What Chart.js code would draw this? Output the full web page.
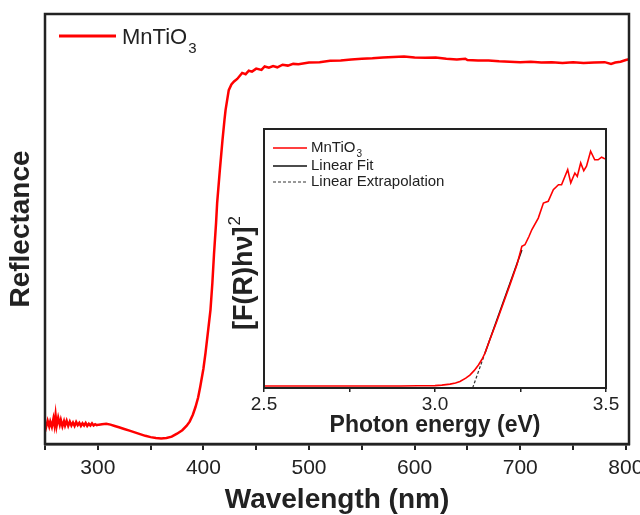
<!DOCTYPE html>
<html>
<head>
<meta charset="utf-8">
<script src="https://cdn.jsdelivr.net/npm/chart.js@4.4.1/dist/chart.umd.min.js"></script>
<style>
  body { margin: 0; background: #fff; }
  #wrap { position: relative; width: 640px; height: 515px; }
  #main { position: absolute; left: 0; top: 0; }
  #inset { position: absolute; left: 225px; top: 115px; }
</style>
</head>
<body>
<div id="wrap">
  <canvas id="main" width="640" height="515"></canvas>
  <canvas id="inset" width="400" height="326"></canvas>
</div>
<script>
// main spectrum: wavelength (nm) vs reflectance (a.u.)
const wavelength = [250, 251, 252.5, 254, 255, 256.5, 258, 259, 260, 261, 262.5, 264, 265, 266.5, 268, 269, 270.5, 272,
  273.5, 275, 276.5, 278, 279.5, 281, 282.5, 284, 285.5, 287, 288.5, 290, 291.5, 293, 294.5, 296, 297.5, 299,
  301, 304, 308, 312, 316, 320, 325, 330, 335, 340, 345, 350, 355, 360, 365, 370, 375, 380, 384, 387, 390, 392.5, 395, 397,
  400, 402, 404.5, 406.7, 408.5, 410, 412, 413, 415.5, 418, 420, 421, 424, 426.5, 429, 432, 436.7, 440, 443, 446, 450, 455,
  458, 462, 466, 470, 475, 480, 485, 490, 500, 510, 520, 530, 540, 550, 560, 570, 580, 590, 600, 610, 620, 630, 640, 648,
  650, 660, 670, 680, 690, 700, 710, 720, 730, 740, 750, 760, 770, 780, 786, 790, 795, 800, 803];
const reflectance = [4.8, 3.9, 5.4, 4.1, 5.2, 4.0, 5.9, 4.4, 6.7, 4.2, 6.1, 4.5, 5.6, 4.1, 5.3, 4.3, 5.4, 4.2,
  5.2, 4.3, 5.0, 4.2, 5.1, 4.4, 4.9, 4.2, 4.8, 4.3, 4.9, 4.2, 4.7, 4.3, 4.8, 4.3, 4.6, 4.4,
  4.5, 4.6, 4.7, 4.5, 4.2, 3.9, 3.5, 3.1, 2.7, 2.3, 1.9, 1.6, 1.4, 1.3, 1.4, 1.7, 2.4, 3.2, 4.2, 5.2, 6.8, 8.6, 10.8, 13.3,
  17.5, 21.2, 26.5, 31.2, 37.5, 44.0, 51.5, 56.0, 63.5, 70.5, 75.5, 77.7, 82.3, 83.6, 84.3, 84.9, 86.3, 86.0, 86.8, 86.6, 87.3, 87.0,
  87.8, 87.5, 87.9, 87.6, 88.2, 88.0, 88.4, 88.3, 88.7, 88.8, 89.1, 89.2, 89.4, 89.6, 89.7, 89.9, 90.0, 90.1, 89.9, 89.8, 89.9, 89.6, 89.4, 89.6,
  89.3, 89.2, 89.2, 89.0, 88.9, 88.8, 88.9, 88.7, 88.8, 88.6, 88.8, 88.6, 88.7, 88.8, 88.4, 88.7, 88.9, 89.3, 89.5];
const wlTicks = [250, 300, 350, 400, 450, 500, 550, 600, 650, 700, 750, 800];

// inset: Tauc plot
const energy = [2.50, 2.60, 2.70, 2.80, 2.90, 2.95, 3.00, 3.02, 3.044, 3.06, 3.073, 3.09, 3.102, 3.115, 3.127, 3.137, 3.146,
  3.16, 3.18, 3.20, 3.22, 3.24, 3.254, 3.263, 3.275, 3.283, 3.302, 3.317, 3.331, 3.346, 3.361, 3.370, 3.388, 3.397, 3.409,
  3.416, 3.426, 3.435, 3.443, 3.455, 3.467, 3.477, 3.487, 3.495, 3.50];
const tauc = [0.8, 0.8, 0.8, 0.8, 0.8, 0.85, 0.9, 1.1, 1.5, 1.9, 2.5, 3.8, 5.0, 6.8, 8.9, 11.0, 13.4,
  18.5, 25.5, 32.8, 40.2, 47.8, 54.7, 55.3, 58.6, 61.1, 65.6, 71.4, 72.1, 76.6, 78.5, 78.5, 84.3, 79.2, 83.0,
  81.7, 86.9, 83.9, 85.6, 91.4, 88.1, 88.1, 89.1, 88.6, 88.4];
const fitEnergy = [3.146, 3.254];
const fitValue = [13.4, 53.3];
const extEnergy = [3.110, 3.146];
const extValue = [0, 13.4];
const eTicks = [2.5, 2.75, 3.0, 3.25, 3.5];

const FONT = "'Liberation Sans', Arial, sans-serif";
const INK = '#222';

function pts(xs, ys) {
  return xs.map((x, i) => ({ x: x, y: ys[i] }));
}

// label with a lowered (or raised) small part, e.g. MnTiO + 3
function drawScript(ctx, x, y, base, extra, size, extraSize, dy, weight) {
  ctx.font = (weight || '') + ' ' + size + 'px ' + FONT;
  ctx.fillText(base, x, y);
  const w = ctx.measureText(base).width;
  ctx.font = extraSize + 'px ' + FONT;
  ctx.fillText(extra, x + w + 1, y + dy);
}

const frame = {
  id: 'frame',
  afterDatasetsDraw(chart, args, opts) {
    const a = chart.chartArea, ctx = chart.ctx;
    ctx.save();
    ctx.strokeStyle = INK;
    ctx.lineWidth = opts.width;
    ctx.strokeRect(a.left, a.top, a.right - a.left, a.bottom - a.top);
    ctx.restore();
  }
};

const mainKey = {
  id: 'mainKey',
  afterDraw(chart) {
    const ctx = chart.ctx;
    ctx.save();
    ctx.strokeStyle = chart.data.datasets[0].borderColor;
    ctx.lineWidth = 3;
    ctx.beginPath(); ctx.moveTo(59, 36); ctx.lineTo(116, 36); ctx.stroke();
    ctx.fillStyle = INK;
    ctx.textBaseline = 'alphabetic';
    drawScript(ctx, 122, 44, 'MnTiO', '3', 22, 15, 9);
    ctx.restore();
  }
};

const insetText = {
  id: 'insetText',
  afterDraw(chart) {
    const ctx = chart.ctx;
    const ds = chart.data.datasets;
    ctx.save();
    // legend
    const rows = [33, 51, 67];
    ds.forEach((d, i) => {
      ctx.strokeStyle = d.borderColor;
      ctx.lineWidth = i === 2 ? 1.2 : 1.5;
      ctx.setLineDash(d.borderDash || []);
      ctx.beginPath(); ctx.moveTo(48, rows[i]); ctx.lineTo(82, rows[i]); ctx.stroke();
    });
    ctx.setLineDash([]);
    ctx.fillStyle = INK;
    ctx.textBaseline = 'middle';
    drawScript(ctx, 86, rows[0], 'MnTiO', '3', 15, 10, 6);
    ctx.font = '15px ' + FONT;
    ctx.fillText('Linear Fit', 86, rows[1]);
    ctx.fillText('Linear Extrapolation', 86, rows[2]);
    // y title
    ctx.translate(20, 158);
    ctx.rotate(-Math.PI / 2);
    ctx.textBaseline = 'middle';
    ctx.font = 'bold 27px ' + FONT;
    const w1 = ctx.measureText('[F(R)h\u03bd]').width;
    ctx.font = '17px ' + FONT;
    const w2 = ctx.measureText('2').width;
    drawScript(ctx, -(w1 + w2 + 1) / 2, 0, '[F(R)h\u03bd]', '2', 27, 17, -10, 'bold');
    ctx.restore();
  }
};

new Chart(document.getElementById('main'), {
  type: 'line',
  data: {
    datasets: [{
      label: 'MnTiO3',
      data: pts(wavelength, reflectance),
      borderColor: '#ff0000',
      borderWidth: 2.5,
      pointRadius: 0,
      tension: 0
    }]
  },
  options: {
    responsive: false,
    animation: false,
    layout: { padding: { left: 0, top: 14, right: 11, bottom: 0 } },
    plugins: { legend: { display: false }, tooltip: { enabled: false }, frame: { width: 2.5 } },
    scales: {
      x: {
        type: 'linear', min: 250, max: 803,
        afterBuildTicks: s => { s.ticks = wlTicks.map(v => ({ value: v })); },
        afterFit: s => { s.height = 71; s.paddingRight = 0; s.paddingLeft = 0; },
        ticks: {
          callback: v => (v % 100 === 0 ? v : ''),
          autoSkip: false, maxRotation: 0, padding: 6,
          font: { family: FONT, size: 21 }, color: INK
        },
        grid: { drawOnChartArea: false, drawTicks: true, tickLength: 6, color: INK, lineWidth: 2 },
        border: { display: true, color: INK, width: 2.5 },
        title: {
          display: true, text: 'Wavelength (nm)', color: INK,
          font: { family: FONT, size: 28, weight: 'bold' }, padding: { top: 0, bottom: -2 }
        }
      },
      y: {
        min: 0, max: 100,
        afterFit: s => { s.width = 45; },
        ticks: { display: false },
        grid: { display: false },
        border: { display: false },
        title: {
          display: true, text: 'Reflectance', color: INK,
          font: { family: FONT, size: 28, weight: 'bold' }, padding: { top: 4, bottom: 0 }
        }
      }
    }
  },
  plugins: [frame, mainKey]
});

new Chart(document.getElementById('inset'), {
  type: 'line',
  data: {
    datasets: [
      { label: 'MnTiO3', data: pts(energy, tauc), borderColor: '#ff0000', borderWidth: 1.6, pointRadius: 0, tension: 0 },
      { label: 'Linear Fit', data: pts(fitEnergy, fitValue), borderColor: '#111', borderWidth: 1.5, pointRadius: 0 },
      { label: 'Linear Extrapolation', data: pts(extEnergy, extValue), borderColor: '#333', borderWidth: 1.2, borderDash: [3, 2], pointRadius: 0 }
    ]
  },
  options: {
    responsive: false,
    animation: false,
    layout: { padding: { left: 0, top: 14, right: 19, bottom: 0 } },
    plugins: { legend: { display: false }, tooltip: { enabled: false }, frame: { width: 2 } },
    scales: {
      x: {
        type: 'linear', min: 2.5, max: 3.5,
        afterBuildTicks: s => { s.ticks = eTicks.map(v => ({ value: v })); },
        afterFit: s => { s.height = 53; s.paddingRight = 0; s.paddingLeft = 0; },
        ticks: {
          callback: v => (Math.abs(v * 2 - Math.round(v * 2)) < 1e-6 ? v.toFixed(1) : ''),
          autoSkip: false, maxRotation: 0, padding: 1,
          font: { family: FONT, size: 19 }, color: INK
        },
        grid: { drawOnChartArea: false, drawTicks: true, tickLength: 4, color: INK, lineWidth: 1.5 },
        border: { display: true, color: INK, width: 2 },
        title: {
          display: true, text: 'Photon energy (eV)', color: INK,
          font: { family: FONT, size: 23, weight: 'bold' }, padding: { top: 0, bottom: 2 }
        }
      },
      y: {
        min: 0, max: 100,
        afterFit: s => { s.width = 39; },
        ticks: { display: false },
        grid: { display: false },
        border: { display: false }
      }
    }
  },
  plugins: [frame, insetText]
});
</script>
</body>
</html>
